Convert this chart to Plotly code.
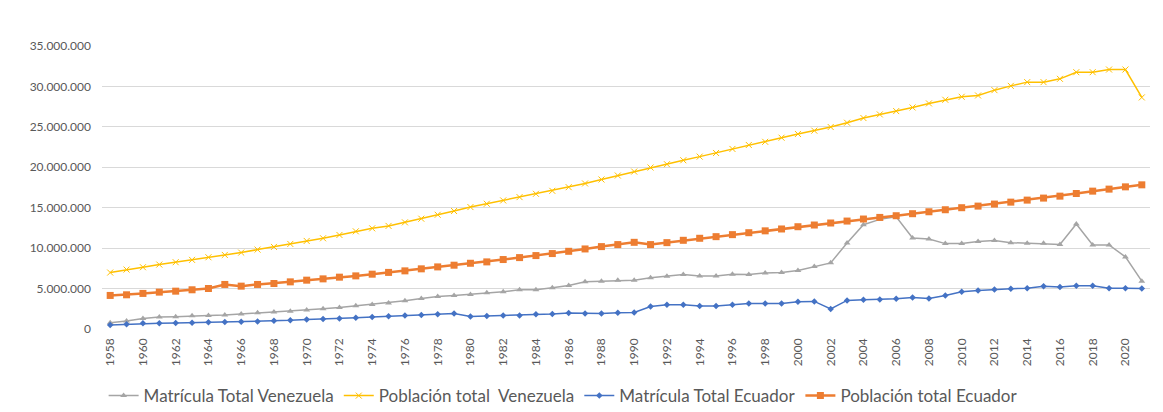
import plotly.graph_objects as go

years = list(range(1958, 2022))

matricula_venezuela = [
    0.78, 0.99, 1.31, 1.48, 1.52, 1.64, 1.68, 1.73, 1.85, 2.01,
    2.10, 2.18, 2.34, 2.51, 2.67, 2.88, 3.04, 3.22, 3.49, 3.78,
    4.03, 4.15, 4.27, 4.48, 4.60, 4.85, 4.85, 5.09, 5.38, 5.83,
    5.92, 6.04, 6.04, 6.33, 6.53, 6.74, 6.57, 6.57, 6.78, 6.74,
    6.94, 6.98, 7.23, 7.72, 8.18, 10.64, 12.90, 13.56, 13.89, 11.26,
    11.13, 10.56, 10.56, 10.81, 10.93, 10.68, 10.60, 10.60, 10.44, 12.98,
    10.39, 10.39, 8.92, 5.92,
]

poblacion_venezuela = [
    6.98, 7.35, 7.64, 7.97, 8.26, 8.55, 8.87, 9.16, 9.45, 9.82,
    10.15, 10.52, 10.89, 11.22, 11.63, 12.08, 12.45, 12.75, 13.19, 13.64,
    14.13, 14.59, 15.08, 15.49, 15.90, 16.31, 16.72, 17.09, 17.54, 18.00,
    18.49, 18.98, 19.47, 19.97, 20.38, 20.87, 21.32, 21.77, 22.27, 22.76,
    23.15, 23.66, 24.12, 24.53, 24.98, 25.51, 26.09, 26.54, 26.95, 27.40,
    27.90, 28.35, 28.72, 28.88, 29.54, 30.07, 30.53, 30.53, 30.94, 31.76,
    31.76, 32.09, 32.09, 28.64,
]

matricula_ecuador = [
    0.49, 0.58, 0.70, 0.70, 0.74, 0.78, 0.82, 0.86, 0.90, 0.94,
    1.03, 1.07, 1.19, 1.23, 1.31, 1.40, 1.48, 1.58, 1.68, 1.73,
    1.81, 1.93, 1.56, 1.60, 1.68, 1.68, 1.81, 1.85, 1.97, 1.93,
    1.93, 2.01, 2.05, 2.79, 3.00, 3.00, 2.83, 2.83, 3.00, 3.16,
    3.16, 3.16, 3.37, 3.41, 2.47, 3.53, 3.62, 3.66, 3.74, 3.90,
    3.78, 4.15, 4.60, 4.76, 4.89, 4.97, 5.05, 5.30, 5.18, 5.34,
    5.34, 5.05, 5.05, 5.01,
]

poblacion_ecuador = [
    4.15, 4.23, 4.40, 4.56, 4.68, 4.85, 5.01, 5.51, 5.30, 5.51,
    5.63, 5.83, 6.04, 6.20, 6.41, 6.57, 6.78, 7.00, 7.19, 7.44,
    7.68, 7.89, 8.13, 8.30, 8.59, 8.83, 9.08, 9.33, 9.61, 9.90,
    10.19, 10.44, 10.72, 10.44, 10.68, 10.97, 11.22, 11.42, 11.67, 11.91,
    12.14, 12.37, 12.65, 12.86, 13.11, 13.35, 13.60, 13.80, 14.01, 14.26,
    14.50, 14.75, 15.00, 15.20, 15.45, 15.69, 15.94, 16.19, 16.43, 16.76,
    17.05, 17.30, 17.58, 17.83,
]

y_ticks = [0, 5_000_000, 10_000_000, 15_000_000, 20_000_000, 25_000_000, 30_000_000, 35_000_000]
x_ticks = list(range(1958, 2021, 2))


def scale(vals):
    return [v * 1_000_000 for v in vals]


fig = go.Figure()

fig.add_trace(go.Scatter(
    x=years, y=scale(matricula_venezuela), name="Matrícula Total Venezuela",
    mode="lines+markers",
    line=dict(color="#A5A5A5", width=1.5),
    marker=dict(symbol="triangle-up", size=6, color="#A5A5A5"),
))
fig.add_trace(go.Scatter(
    x=years, y=scale(poblacion_venezuela), name="Población total  Venezuela",
    mode="lines+markers",
    line=dict(color="#FFC000", width=1.5),
    marker=dict(symbol="x-thin", size=6, color="#FFC000",
                line=dict(color="#FFC000", width=1)),
))
fig.add_trace(go.Scatter(
    x=years, y=scale(matricula_ecuador), name="Matrícula Total Ecuador",
    mode="lines+markers",
    line=dict(color="#4472C4", width=1.5),
    marker=dict(symbol="diamond", size=5, color="#4472C4"),
))
fig.add_trace(go.Scatter(
    x=years, y=scale(poblacion_ecuador), name="Población total Ecuador",
    mode="lines+markers",
    line=dict(color="#ED7D31", width=2.5),
    marker=dict(symbol="square", size=7, color="#ED7D31"),
))

fig.update_layout(
    width=1155, height=404,
    margin=dict(l=94, r=13, t=38, b=83, autoexpand=False),
    paper_bgcolor="white", plot_bgcolor="white",
    separators=",.",
    font=dict(family="Lato, Open Sans, sans-serif", color="#595959", size=12),
    showlegend=True,
    legend=dict(
        orientation="h", x=0.44, xanchor="center", y=-0.237, yanchor="middle",
        font=dict(size=17, color="#595959"),
        itemwidth=30, tracegroupgap=0,
    ),
    xaxis=dict(
        range=[1957.5, 2021.5], tickmode="array", tickvals=x_ticks,
        tickangle=-90, showgrid=False, zeroline=False, showline=False,
        automargin=False,
        ticks="", ticklabelstandoff=6, tickfont=dict(size=12, color="#595959"),
    ),
    yaxis=dict(
        range=[0, 35_000_000], tickmode="array", tickvals=y_ticks,
        tickformat=",.0f", showgrid=True, gridcolor="#D9D9D9", gridwidth=1,
        zeroline=False, showline=False, ticks="", ticklabelstandoff=10,
        automargin=False,
        tickfont=dict(size=12, color="#595959"),
    ),
    shapes=[dict(
        type="line", xref="paper", yref="paper",
        x0=-0.0906, x1=-0.0906, y0=1.145, y1=-0.3,
        line=dict(color="#D9D9D9", width=1),
    )],
)

fig.write_html("out.html")
